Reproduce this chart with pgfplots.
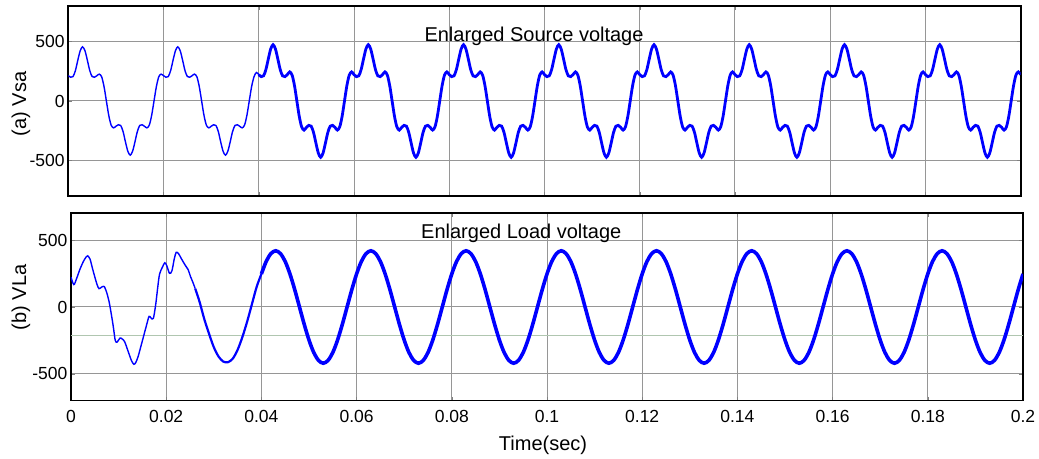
\documentclass[border=0pt]{standalone}
\usepackage{fontspec}
\setmainfont{Liberation Sans}
\usepackage{pgfplots}
\pgfplotsset{compat=1.18}

\definecolor{simblue}{RGB}{0,0,255}
\definecolor{gridgray}{RGB}{150,150,150}
\definecolor{sage}{RGB}{176,198,176}

% matlab-like scope panel
\pgfplotsset{scope/.style={
    scale only axis, anchor=north west,
    xmin=0, xmax=0.2,
    xtick={0,0.02,0.04,0.06,0.08,0.1,0.12,0.14,0.16,0.18,0.2},
    ytick={-500,0,500}, yticklabels={-500,0,500},
    scaled x ticks=false, scaled y ticks=false,
    tickpos=both, tick align=inside, major tick length=2pt,
    grid=major, major grid style={gridgray, line width=0.5pt},
    axis line style={line width=0.8pt},
    tick label style={font=\fontsize{8.75}{10}\selectfont, inner sep=0pt},
    yticklabel style={xshift=-1.65pt},
    xticklabel style={yshift=-4.5pt},
    label style={font=\fontsize{10}{12}\selectfont},
    every axis plot/.append style={simblue, smooth},
}}

\begin{document}
\begin{tikzpicture}
\path[use as bounding box] (0,0) rectangle (519.5pt,-229.5pt);

% (a) source voltage
\begin{axis}[scope, at={(34.15pt,-3pt)}, width=476.2pt, height=95pt,
    ymin=-800, ymax=800, xticklabels={},
    ylabel={(a) Vsa},
    ylabel style={at={(axis description cs:-0.0497,0.484)}, anchor=center}]
\addplot[line width=0.7pt] table {
0.0000 213
0.0005 200
0.0010 206
0.0015 257
0.0020 344
0.0025 423
0.0030 456
0.0035 423
0.0040 344
0.0045 257
0.0050 206
0.0055 200
0.0060 213
0.0065 226
0.0070 204
0.0075 122
0.0080 0
0.0085 -122
0.0090 -204
0.0095 -226
0.0100 -213
0.0105 -200
0.0110 -206
0.0115 -257
0.0120 -344
0.0125 -423
0.0130 -456
0.0135 -423
0.0140 -344
0.0145 -257
0.0150 -206
0.0155 -200
0.0160 -213
0.0165 -226
0.0170 -204
0.0175 -122
0.0180 0
0.0185 122
0.0190 204
0.0195 226
0.0200 213
0.0205 200
0.0210 206
0.0215 257
0.0220 344
0.0225 423
0.0230 456
0.0235 423
0.0240 344
0.0245 257
0.0250 206
0.0255 200
0.0260 213
0.0265 226
0.0270 204
0.0275 122
0.0280 0
0.0285 -122
0.0290 -204
0.0295 -226
0.0300 -213
0.0305 -200
0.0310 -206
0.0315 -257
0.0320 -344
0.0325 -423
0.0330 -456
0.0335 -423
0.0340 -344
0.0345 -257
0.0350 -206
0.0355 -200
0.0360 -213
0.0365 -226
0.0370 -204
0.0375 -122
0.0380 0
0.0385 122
0.0390 204
0.0395 240
0.0400 222
};
\addplot[line width=1.4pt] table {
0.0400 222
0.0405 205
0.0410 212
0.0415 265
0.0420 354
0.0425 438
0.0430 474
0.0435 438
0.0440 354
0.0445 265
0.0450 212
0.0455 205
0.0460 222
0.0465 245
0.0470 218
0.0475 129
0.0480 0
0.0485 -129
0.0490 -218
0.0495 -245
0.0500 -222
0.0505 -205
0.0510 -212
0.0515 -265
0.0520 -354
0.0525 -438
0.0530 -474
0.0535 -438
0.0540 -354
0.0545 -265
0.0550 -212
0.0555 -205
0.0560 -222
0.0565 -245
0.0570 -218
0.0575 -129
0.0580 0
0.0585 129
0.0590 218
0.0595 245
0.0600 222
0.0605 205
0.0610 212
0.0615 265
0.0620 354
0.0625 438
0.0630 474
0.0635 438
0.0640 354
0.0645 265
0.0650 212
0.0655 205
0.0660 222
0.0665 245
0.0670 218
0.0675 129
0.0680 0
0.0685 -129
0.0690 -218
0.0695 -245
0.0700 -222
0.0705 -205
0.0710 -212
0.0715 -265
0.0720 -354
0.0725 -438
0.0730 -474
0.0735 -438
0.0740 -354
0.0745 -265
0.0750 -212
0.0755 -205
0.0760 -222
0.0765 -245
0.0770 -218
0.0775 -129
0.0780 0
0.0785 129
0.0790 218
0.0795 245
0.0800 222
0.0805 205
0.0810 212
0.0815 265
0.0820 354
0.0825 438
0.0830 474
0.0835 438
0.0840 354
0.0845 265
0.0850 212
0.0855 205
0.0860 222
0.0865 245
0.0870 218
0.0875 129
0.0880 0
0.0885 -129
0.0890 -218
0.0895 -245
0.0900 -222
0.0905 -205
0.0910 -212
0.0915 -265
0.0920 -354
0.0925 -438
0.0930 -474
0.0935 -438
0.0940 -354
0.0945 -265
0.0950 -212
0.0955 -205
0.0960 -222
0.0965 -245
0.0970 -218
0.0975 -129
0.0980 0
0.0985 129
0.0990 218
0.0995 245
0.1000 222
0.1005 205
0.1010 212
0.1015 265
0.1020 354
0.1025 438
0.1030 474
0.1035 438
0.1040 354
0.1045 265
0.1050 212
0.1055 205
0.1060 222
0.1065 245
0.1070 218
0.1075 129
0.1080 0
0.1085 -129
0.1090 -218
0.1095 -245
0.1100 -222
0.1105 -205
0.1110 -212
0.1115 -265
0.1120 -354
0.1125 -438
0.1130 -474
0.1135 -438
0.1140 -354
0.1145 -265
0.1150 -212
0.1155 -205
0.1160 -222
0.1165 -245
0.1170 -218
0.1175 -129
0.1180 0
0.1185 129
0.1190 218
0.1195 245
0.1200 222
0.1205 205
0.1210 212
0.1215 265
0.1220 354
0.1225 438
0.1230 474
0.1235 438
0.1240 354
0.1245 265
0.1250 212
0.1255 205
0.1260 222
0.1265 245
0.1270 218
0.1275 129
0.1280 0
0.1285 -129
0.1290 -218
0.1295 -245
0.1300 -222
0.1305 -205
0.1310 -212
0.1315 -265
0.1320 -354
0.1325 -438
0.1330 -474
0.1335 -438
0.1340 -354
0.1345 -265
0.1350 -212
0.1355 -205
0.1360 -222
0.1365 -245
0.1370 -218
0.1375 -129
0.1380 0
0.1385 129
0.1390 218
0.1395 245
0.1400 222
0.1405 205
0.1410 212
0.1415 265
0.1420 354
0.1425 438
0.1430 474
0.1435 438
0.1440 354
0.1445 265
0.1450 212
0.1455 205
0.1460 222
0.1465 245
0.1470 218
0.1475 129
0.1480 0
0.1485 -129
0.1490 -218
0.1495 -245
0.1500 -222
0.1505 -205
0.1510 -212
0.1515 -265
0.1520 -354
0.1525 -438
0.1530 -474
0.1535 -438
0.1540 -354
0.1545 -265
0.1550 -212
0.1555 -205
0.1560 -222
0.1565 -245
0.1570 -218
0.1575 -129
0.1580 0
0.1585 129
0.1590 218
0.1595 245
0.1600 222
0.1605 205
0.1610 212
0.1615 265
0.1620 354
0.1625 438
0.1630 474
0.1635 438
0.1640 354
0.1645 265
0.1650 212
0.1655 205
0.1660 222
0.1665 245
0.1670 218
0.1675 129
0.1680 0
0.1685 -129
0.1690 -218
0.1695 -245
0.1700 -222
0.1705 -205
0.1710 -212
0.1715 -265
0.1720 -354
0.1725 -438
0.1730 -474
0.1735 -438
0.1740 -354
0.1745 -265
0.1750 -212
0.1755 -205
0.1760 -222
0.1765 -245
0.1770 -218
0.1775 -129
0.1780 0
0.1785 129
0.1790 218
0.1795 245
0.1800 222
0.1805 205
0.1810 212
0.1815 265
0.1820 354
0.1825 438
0.1830 474
0.1835 438
0.1840 354
0.1845 265
0.1850 212
0.1855 205
0.1860 222
0.1865 245
0.1870 218
0.1875 129
0.1880 0
0.1885 -129
0.1890 -218
0.1895 -245
0.1900 -222
0.1905 -205
0.1910 -212
0.1915 -265
0.1920 -354
0.1925 -438
0.1930 -474
0.1935 -438
0.1940 -354
0.1945 -265
0.1950 -212
0.1955 -205
0.1960 -222
0.1965 -245
0.1970 -218
0.1975 -129
0.1980 0
0.1985 129
0.1990 218
0.1995 245
0.2000 222
};
\node[anchor=base, inner sep=0pt, font=\fontsize{10}{12}\selectfont] at (axis cs:0.0978,500) {Enlarged Source voltage};
\end{axis}

% (b) load voltage
\begin{axis}[scope, at={(35.5pt,-106.65pt)}, width=476pt, height=93.7pt,
    ymin=-700, ymax=700,
    xticklabels={0,0.02,0.04,0.06,0.08,0.1,0.12,0.14,0.16,0.18,0.2},
    extra y ticks={-212}, extra y tick labels={},
    extra y tick style={major grid style={sage, line width=0.6pt}, major tick length=0pt},
    xlabel={Time(sec)},
    xlabel style={at={(axis description cs:0.4958,-0.236)}, anchor=center},
    ylabel={(b) VLa},
    ylabel style={at={(axis description cs:-0.0525,0.551)}, anchor=center}]
\addplot[line width=0.7pt] table {
0.0000 223
0.0006 167
0.0012 215
0.0019 284
0.0026 340
0.0032 375
0.0035 382
0.0040 358
0.0045 290
0.0050 225
0.0055 165
0.0059 137
0.0065 150
0.0070 152
0.0075 108
0.0080 40
0.0085 -60
0.0089 -150
0.0093 -250
0.0097 -262
0.0103 -232
0.0108 -240
0.0113 -262
0.0121 -341
0.0127 -400
0.0132 -428
0.0136 -415
0.0141 -370
0.0149 -265
0.0158 -145
0.0164 -70
0.0168 -82
0.0173 -85
0.0178 20
0.0182 140
0.0186 245
0.0192 297
0.0197 330
0.0201 310
0.0207 252
0.0212 270
0.0217 360
0.0221 408
0.0226 398
0.0232 360
0.0240 312
0.0246 280
0.0251 228
0.0256 185
0.0261 137
};
\addplot[line width=1.1pt] table {
0.0261 137
0.0270 40
0.0280 -90
0.0290 -200
0.0300 -300
0.0310 -370
0.0320 -408
0.0330 -412
0.0340 -385
0.0350 -320
0.0360 -225
0.0370 -110
0.0380 20
0.0390 150
0.0400 247
};
\addplot[line width=1.8pt] table {
0.040 247
0.041 340
0.042 399
0.043 420
0.044 399
0.045 340
0.046 247
0.047 130
0.048 0
0.049 -130
0.050 -247
0.051 -340
0.052 -399
0.053 -420
0.054 -399
0.055 -340
0.056 -247
0.057 -130
0.058 0
0.059 130
0.060 247
0.061 340
0.062 399
0.063 420
0.064 399
0.065 340
0.066 247
0.067 130
0.068 0
0.069 -130
0.070 -247
0.071 -340
0.072 -399
0.073 -420
0.074 -399
0.075 -340
0.076 -247
0.077 -130
0.078 0
0.079 130
0.080 247
0.081 340
0.082 399
0.083 420
0.084 399
0.085 340
0.086 247
0.087 130
0.088 0
0.089 -130
0.090 -247
0.091 -340
0.092 -399
0.093 -420
0.094 -399
0.095 -340
0.096 -247
0.097 -130
0.098 0
0.099 130
0.100 247
0.101 340
0.102 399
0.103 420
0.104 399
0.105 340
0.106 247
0.107 130
0.108 0
0.109 -130
0.110 -247
0.111 -340
0.112 -399
0.113 -420
0.114 -399
0.115 -340
0.116 -247
0.117 -130
0.118 0
0.119 130
0.120 247
0.121 340
0.122 399
0.123 420
0.124 399
0.125 340
0.126 247
0.127 130
0.128 0
0.129 -130
0.130 -247
0.131 -340
0.132 -399
0.133 -420
0.134 -399
0.135 -340
0.136 -247
0.137 -130
0.138 0
0.139 130
0.140 247
0.141 340
0.142 399
0.143 420
0.144 399
0.145 340
0.146 247
0.147 130
0.148 0
0.149 -130
0.150 -247
0.151 -340
0.152 -399
0.153 -420
0.154 -399
0.155 -340
0.156 -247
0.157 -130
0.158 0
0.159 130
0.160 247
0.161 340
0.162 399
0.163 420
0.164 399
0.165 340
0.166 247
0.167 130
0.168 0
0.169 -130
0.170 -247
0.171 -340
0.172 -399
0.173 -420
0.174 -399
0.175 -340
0.176 -247
0.177 -130
0.178 0
0.179 130
0.180 247
0.181 340
0.182 399
0.183 420
0.184 399
0.185 340
0.186 247
0.187 130
0.188 0
0.189 -130
0.190 -247
0.191 -340
0.192 -399
0.193 -420
0.194 -399
0.195 -340
0.196 -247
0.197 -130
0.198 0
0.199 130
0.200 247
};
\node[anchor=base, inner sep=0pt, font=\fontsize{10}{12}\selectfont] at (axis cs:0.0946,510) {Enlarged Load voltage};
\end{axis}
\end{tikzpicture}
\end{document}
